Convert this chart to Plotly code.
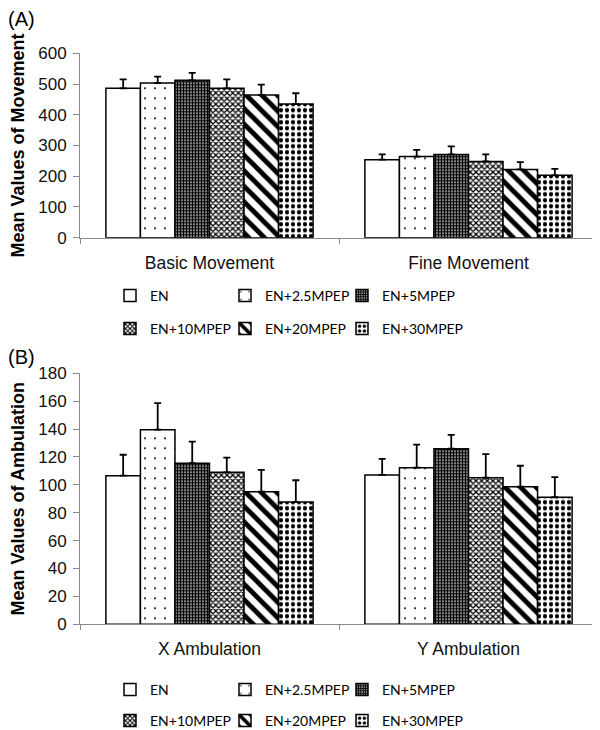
import plotly.graph_objects as go

# ---------------- data ----------------
series_names = ["EN", "EN+2.5MPEP", "EN+5MPEP", "EN+10MPEP", "EN+20MPEP", "EN+30MPEP"]

movement_categories = ["Basic Movement", "Fine Movement"]
movement_means = [
    [486, 254],
    [503, 264],
    [512, 271],
    [486, 248],
    [464, 222],
    [435, 203],
]
movement_errors = [
    [29, 17],
    [21, 22],
    [24, 26],
    [29, 23],
    [34, 24],
    [35, 21],
]

ambulation_categories = ["X Ambulation", "Y Ambulation"]
ambulation_means = [
    [106.6, 107.1],
    [139.6, 112.3],
    [115.5, 125.9],
    [109.0, 105.1],
    [95.1, 98.7],
    [87.7, 91.1],
]
ambulation_errors = [
    [15.0, 11.5],
    [19.0, 16.5],
    [15.5, 10.0],
    [10.5, 17.0],
    [15.6, 15.0],
    [15.6, 14.5],
]

movement_ticks = [0, 100, 200, 300, 400, 500, 600]
ambulation_ticks = [0, 20, 40, 60, 80, 100, 120, 140, 160, 180]

# ---------------- styles ----------------
patterns = [
    dict(shape=""),
    dict(shape=".", bgcolor="white", fgcolor="black", size=10, solidity=0.03, fillmode="replace"),
    dict(shape="+", bgcolor="white", fgcolor="black", size=3, solidity=0.78, fillmode="replace"),
    dict(shape="x", bgcolor="white", fgcolor="black", size=4, solidity=0.55, fillmode="replace"),
    dict(shape="\\", bgcolor="white", fgcolor="black", size=11, solidity=0.45, fillmode="replace"),
    dict(shape=".", bgcolor="white", fgcolor="black", size=6, solidity=0.4, fillmode="replace"),
]

AX_FONT = "Liberation Sans, Arial, sans-serif"
LEG_FONT = "Lato, Open Sans, sans-serif"
AXIS_GRAY = "#8a8a8a"

# the page body adds an 8px margin; the figure is sized to fill the rest
PAGE_OFF = 8
FW = 600 - PAGE_OFF
FH = 730 - PAGE_OFF


def fx(page_x):
    return (page_x - PAGE_OFF) / FW


def fy(page_y):
    return 1 - (page_y - PAGE_OFF) / FH


fig = go.Figure()

# legend slots: one legend per entry, so the 3x2 grid matches the reference
legend_cols_px = [102, 217, 334]
legend_rows_top_px = [296, 329]
legend_rows_bot_px = [690, 721]

legend_layout = {}
counter = [0]


def legend_name():
    counter[0] += 1
    return "legend" if counter[0] == 1 else "legend%d" % counter[0]


def add_group(cats, means, errs, xa, ya, rows_px):
    for i, name in enumerate(series_names):
        lname = legend_name()
        col = i % 3
        row = i // 3
        legend_layout[lname] = dict(
            orientation="h", xanchor="left", yanchor="middle",
            xref="container", yref="container",
            x=(legend_cols_px[col]) / FW, y=fy(rows_px[row]),
            font=dict(family=LEG_FONT, size=14, color="black"),
            bgcolor="rgba(0,0,0,0)", borderwidth=0,
        )
        fig.add_trace(go.Bar(
            x=cats, y=means[i], name=name,
            xaxis=xa, yaxis=ya,
            marker=dict(color="white", line=dict(color="black", width=1.5),
                        pattern=patterns[i]),
            error_y=dict(type="data", symmetric=False, array=errs[i],
                         arrayminus=[0] * len(errs[i]),
                         color="black", thickness=1.8, width=3.5),
            legend=lname,
            showlegend=True,
        ))


add_group(movement_categories, movement_means, movement_errors, "x", "y", legend_rows_top_px)
add_group(ambulation_categories, ambulation_means, ambulation_errors, "x2", "y2", legend_rows_bot_px)

xdom = [fx(80), fx(598)]
ydom_top = [fy(237.7), fy(53.3)]
ydom_bot = [fy(624.3), fy(373.3)]

xaxis_common = dict(
    type="category", showline=True, linecolor=AXIS_GRAY, linewidth=1,
    ticks="outside", tickson="boundaries", ticklen=5, tickcolor=AXIS_GRAY,
    ticklabelstandoff=9, showgrid=False, zeroline=False, domain=xdom,
    automargin=False,
    tickfont=dict(family=AX_FONT, size=17.5, color="#111"),
)
yaxis_common = dict(
    showline=True, linecolor=AXIS_GRAY, linewidth=1,
    ticks="outside", ticklen=6, tickcolor=AXIS_GRAY,
    tickfont=dict(family=AX_FONT, size=17, color="#111"),
    showgrid=False, zeroline=False, ticklabelstandoff=3,
    automargin=False,
)

fig.update_layout(
    width=FW, height=FH,
    margin=dict(l=0, r=0, t=0, b=0, autoexpand=False),
    paper_bgcolor="white", plot_bgcolor="white",
    barmode="group", bargap=0.2, bargroupgap=0,
    xaxis=dict(**xaxis_common, anchor="y"),
    yaxis=dict(**yaxis_common, anchor="x", domain=ydom_top, range=[0, 600],
               tickvals=movement_ticks,
               title=dict(text="<b>Mean Values of Movement</b>", standoff=23,
                          font=dict(family=AX_FONT, size=18, color="black"))),
    xaxis2=dict(**xaxis_common, anchor="y2"),
    yaxis2=dict(**yaxis_common, anchor="x2", domain=ydom_bot, range=[0, 180],
                tickvals=ambulation_ticks,
                title=dict(text="<b>Mean Values of Ambulation</b>", standoff=23,
                           font=dict(family=AX_FONT, size=18, color="black"))),
    annotations=[
        dict(text="(A)", x=0, y=fy(19), xref="paper", yref="paper",
             xanchor="left", yanchor="middle", showarrow=False, xshift=-2,
             font=dict(family=AX_FONT, size=20, color="black")),
        dict(text="(B)", x=0, y=fy(357), xref="paper", yref="paper",
             xanchor="left", yanchor="middle", showarrow=False, xshift=-2,
             font=dict(family=AX_FONT, size=20, color="black")),
    ],
    **legend_layout,
)

fig.write_html("out.html")
